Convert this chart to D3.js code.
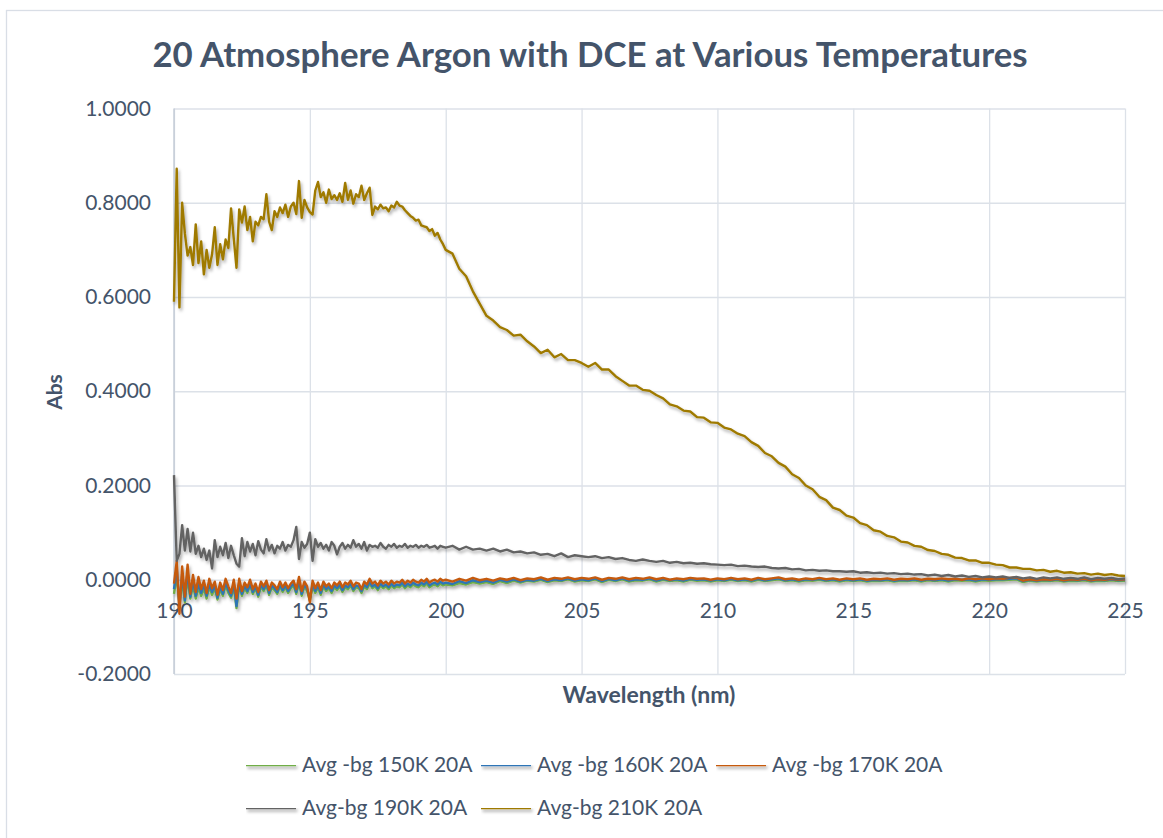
<!DOCTYPE html>
<html>
<head>
<meta charset="utf-8">
<script src="https://cdn.jsdelivr.net/npm/d3@7"></script>
<style>
  body { margin: 0; background: #fff; }
  svg { display: block; }
  text { font-family: Lato, "Open Sans", sans-serif; fill: #44546A; }
</style>
</head>
<body>
<svg id="chart" width="1163" height="838"></svg>
<script>
// Sampling wavelengths (nm): 0.1 nm steps to 200 nm, 0.25 nm steps after.
const wavelengths = [
  190,190.1,190.2,190.3,190.4,190.5,190.6,190.7,190.8,190.9,
  191,191.1,191.2,191.3,191.4,191.5,191.6,191.7,191.8,191.9,
  192,192.1,192.2,192.3,192.4,192.5,192.6,192.7,192.8,192.9,
  193,193.1,193.2,193.3,193.4,193.5,193.6,193.7,193.8,193.9,
  194,194.1,194.2,194.3,194.4,194.5,194.6,194.7,194.8,194.9,
  195,195.1,195.2,195.3,195.4,195.5,195.6,195.7,195.8,195.9,
  196,196.1,196.2,196.3,196.4,196.5,196.6,196.7,196.8,196.9,
  197,197.1,197.2,197.3,197.4,197.5,197.6,197.7,197.8,197.9,
  198,198.1,198.2,198.3,198.4,198.5,198.6,198.7,198.8,198.9,
  199,199.1,199.2,199.3,199.4,199.5,199.6,199.7,199.8,199.9,
  200,200.25,200.5,200.75,201,201.25,201.5,201.75,202,202.25,
  202.5,202.75,203,203.25,203.5,203.75,204,204.25,204.5,204.75,
  205,205.25,205.5,205.75,206,206.25,206.5,206.75,207,207.25,
  207.5,207.75,208,208.25,208.5,208.75,209,209.25,209.5,209.75,
  210,210.25,210.5,210.75,211,211.25,211.5,211.75,212,212.25,
  212.5,212.75,213,213.25,213.5,213.75,214,214.25,214.5,214.75,
  215,215.25,215.5,215.75,216,216.25,216.5,216.75,217,217.25,
  217.5,217.75,218,218.25,218.5,218.75,219,219.25,219.5,219.75,
  220,220.25,220.5,220.75,221,221.25,221.5,221.75,222,222.25,
  222.5,222.75,223,223.25,223.5,223.75,224,224.25,224.5,224.75,
  225
];

// Background-subtracted absorbance, in milli-absorbance units (mAbs).
const abs150K = [
  -30,10,-50,-2,-48,6,-40,-12,-40,-16,
  -34,-18,-40,-14,-32,-18,-42,-20,-34,-12,
  -28,-38,-14,-60,-10,-34,-18,-28,-12,-30,
  -18,-36,-14,-24,-12,-32,-16,-22,-30,-14,
  -26,-16,-28,-18,-12,-30,-6,-34,-14,-24,
  -44,-14,-28,-16,-32,-14,-24,-18,-28,-16,
  -22,-14,-26,-16,-20,-12,-24,-16,-18,-28,
  -14,-20,-8,-18,-14,-22,-12,-18,-14,-20,
  -12,-18,-14,-16,-10,-18,-12,-16,-10,-14,
  -16,-10,-14,-8,-16,-12,-10,-14,-8,-12,
  -10,-12,-7,-10,-5,-8,-5,-9,-3,-7,
  -2,-6,-2,-4,0,-5,-1,-3,1,-4,
  -1,-3,1,-5,0,-3,1,-4,-1,-2,
  1,-4,0,-3,-1,-4,0,-2,-1,-4,
  -1,-3,0,-3,-1,-4,0,-3,-1,1,
  -3,-1,-4,-1,-2,0,-3,-1,-4,-1,
  -3,-1,-4,-2,-3,-1,-4,-2,-3,-1,
  -4,-1,-3,-1,-4,-1,-2,-1,-4,-1,
  -2,-1,-1,0,1,-5,-2,-4,-2,-3,
  -1,-4,-2,-3,-1,-4,-2,-3,-1,-3,
  -2
];

const abs160K = [
  -20,26,-58,12,-44,18,-36,-2,-34,-8,
  -28,-10,-34,-8,-26,-12,-38,-14,-30,-6,
  -22,-34,-8,-56,-6,-30,-12,-24,-8,-26,
  -14,-32,-10,-20,-8,-28,-12,-18,-26,-10,
  -22,-12,-24,-14,-8,-26,-2,-30,-10,-20,
  -40,-10,-24,-12,-28,-10,-20,-14,-24,-12,
  -18,-10,-22,-12,-16,-8,-20,-12,-14,-24,
  -10,-16,-4,-14,-10,-18,-8,-14,-10,-16,
  -8,-14,-10,-12,-6,-14,-8,-12,-6,-10,
  -12,-6,-10,-4,-12,-8,-6,-10,-4,-8,
  -6,-9,-3,-7,-1,-5,-2,-6,0,-4,
  1,-4,0,-2,2,-3,1,-1,3,-2,
  1,-1,3,-3,2,-1,3,-2,1,0,
  3,-2,2,-1,1,-2,2,0,1,-2,
  1,-1,2,-1,1,-2,2,-1,1,3,
  -1,1,-2,1,0,2,-1,1,-2,1,
  -1,1,-2,0,-1,1,-2,0,-1,1,
  -2,1,-1,1,-2,1,0,1,-2,1,
  0,1,1,2,3,-3,0,-2,0,-1,
  1,-2,0,-1,1,-2,0,-1,1,-1,
  0
];

const abs170K = [
  -8,40,-72,28,-36,32,-30,10,-26,6,
  -20,-2,-28,2,-18,-4,-32,-6,-22,2,
  -14,-28,0,-40,2,-24,-6,-16,0,-20,
  -8,-26,-4,-14,-2,-22,-6,-12,-20,-4,
  -16,-6,-18,-8,-2,-20,6,-24,-4,-14,
  -48,-2,-18,-6,-22,-4,-14,-8,-18,-6,
  -12,-4,-16,-6,-10,-2,-14,-6,-8,-20,
  -4,-10,2,-8,-4,-12,-2,-8,-4,-10,
  -2,-8,-4,-6,0,-8,-2,-6,0,-4,
  -6,0,-4,2,-6,-2,0,-4,2,-2,
  0,-4,2,-2,4,-1,2,-2,3,0,
  4,-1,3,1,5,0,4,2,5,1,
  4,2,5,0,4,2,5,1,4,2,
  5,1,4,0,3,1,4,2,3,0,
  3,1,4,1,3,0,4,1,3,5,
  1,3,0,3,1,4,1,3,0,3,
  1,3,0,2,1,3,0,2,1,3,
  0,2,1,3,1,2,0,3,1,3,
  1,3,2,4,5,-2,1,-1,1,0,
  2,-1,1,0,2,-1,1,0,2,0,
  1
];

const abs190K = [
  222,40,55,116,62,108,60,100,55,72,
  48,66,42,62,24,84,48,70,52,78,
  46,72,52,34,28,88,50,80,60,76,
  52,82,64,56,86,62,74,56,72,66,
  80,62,74,70,84,112,44,80,68,76,
  100,40,86,70,78,66,74,62,80,72,
  54,70,78,66,74,68,84,70,76,66,
  80,62,74,70,72,68,78,70,66,74,
  70,76,68,72,70,76,68,72,70,74,
  68,72,70,74,68,70,72,66,72,70,
  68,72,64,70,64,66,62,66,60,64,
  58,60,56,58,53,55,50,56,48,52,
  50,48,50,46,48,44,46,42,40,43,
  40,38,40,36,38,35,36,34,35,33,
  32,31,32,29,30,28,27,28,25,24,
  25,22,23,20,21,19,20,18,18,17,
  18,15,16,14,15,13,14,12,13,11,
  12,9,11,8,10,7,9,6,8,5,
  7,5,7,4,6,3,5,2,5,3,
  5,2,4,2,5,1,4,2,4,1,
  3
];

const abs210K = [
  590,872,578,800,735,688,706,668,754,672,
  718,648,700,662,690,748,668,712,680,722,
  704,788,724,662,786,758,792,742,770,718,
  760,752,770,765,818,760,742,782,770,790,
  778,796,770,792,800,776,846,768,806,790,
  780,775,826,844,812,822,800,828,808,816,
  806,820,802,842,806,826,798,818,812,836,
  806,820,832,774,792,786,796,788,790,782,
  794,790,802,794,792,784,778,772,768,762,
  764,752,750,748,740,744,730,736,722,712,
  700,692,660,644,612,586,560,550,536,530,
  518,520,506,495,481,488,472,479,466,466,
  460,452,460,446,446,432,422,412,412,403,
  401,392,385,372,368,359,357,345,344,334,
  333,323,319,310,305,292,284,269,262,248,
  240,224,216,200,192,176,169,153,148,136,
  132,120,116,105,102,93,90,81,79,72,
  70,63,61,55,53,47,46,41,41,36,
  36,32,31,26,26,23,23,20,21,17,
  19,15,16,13,14,11,13,10,12,9,
  8
];

const seriesNames = ["Avg -bg 150K 20A", "Avg -bg 160K 20A", "Avg -bg 170K 20A", "Avg-bg 190K 20A", "Avg-bg 210K 20A"];
const seriesValues = [abs150K, abs160K, abs170K, abs190K, abs210K];
const seriesColors = ["#70AD47", "#2E75B6", "#C55A11", "#636363", "#9F7A00"];

const xTicks = [190, 195, 200, 205, 210, 215, 220, 225];
const yTicks = [-0.2, 0, 0.2, 0.4, 0.6, 0.8, 1.0];

const titleText = "20 Atmosphere Argon with DCE at Various Temperatures";
const xTitle = "Wavelength (nm)";
const yTitle = "Abs";

// ---- layout ----
const plot = { left: 174, right: 1125, top: 108.5, bottom: 674 };
const svg = d3.select("#chart");

const x = d3.scaleLinear().domain([190, 225]).range([plot.left, plot.right]);
const y = d3.scaleLinear().domain([-0.2, 1.0]).range([plot.bottom, plot.top]);

// plain hyphen for negative tick values
const fmtAbs = v => d3.format(".4f")(v).replace("\u2212", "-");

// soft outer shadow used by the series lines
const defs = svg.append("defs");
const shadow = defs.append("filter")
  .attr("id", "lineShadow")
  .attr("filterUnits", "userSpaceOnUse")
  .attr("x", 0).attr("y", 0).attr("width", 1163).attr("height", 838);
shadow.append("feDropShadow")
  .attr("dx", 1.5).attr("dy", 2.5)
  .attr("stdDeviation", 1.6)
  .attr("flood-color", "#000")
  .attr("flood-opacity", 0.32);

// chart area frame
svg.append("rect")
  .attr("x", 6.5).attr("y", 10.5)
  .attr("width", 1175).attr("height", 840)
  .attr("fill", "#fff")
  .attr("stroke", "#D9DEE6")
  .attr("stroke-width", 1.3);

// gridlines
const gridColor = "#DCE1E8";
svg.append("g")
  .attr("transform", `translate(${plot.left},0)`)
  .call(d3.axisLeft(y).tickValues(yTicks).tickSize(-(plot.right - plot.left)).tickFormat(""))
  .call(g => g.select(".domain").remove())
  .call(g => g.selectAll("line").attr("stroke", gridColor).attr("stroke-width", 1.3));

svg.append("g")
  .attr("transform", `translate(0,${plot.bottom})`)
  .call(d3.axisBottom(x).tickValues(xTicks).tickSize(-(plot.bottom - plot.top)).tickFormat(""))
  .call(g => g.select(".domain").remove())
  .call(g => g.selectAll("line").attr("stroke", gridColor).attr("stroke-width", 1.3));

// vertical axis line
svg.append("line")
  .attr("x1", plot.left).attr("x2", plot.left)
  .attr("y1", plot.top).attr("y2", plot.bottom)
  .attr("stroke", "#BFC7D3").attr("stroke-width", 1.3);

// y tick labels
svg.append("g")
  .attr("transform", `translate(${plot.left},0)`)
  .call(d3.axisLeft(y).tickValues(yTicks).tickSize(0).tickPadding(23).tickFormat(fmtAbs))
  .call(g => g.select(".domain").remove())
  .call(g => g.selectAll("text")
    .style("font-family", "Lato, 'Open Sans', sans-serif")
    .style("font-size", "21px")
    .attr("fill", "#44546A"));

// x tick labels hang below the zero line
svg.append("g")
  .attr("transform", `translate(0,${y(0)})`)
  .call(d3.axisBottom(x).tickValues(xTicks).tickSize(0).tickPadding(23).tickFormat(d3.format("d")))
  .call(g => g.select(".domain").remove())
  .call(g => g.selectAll("text")
    .style("font-family", "Lato, 'Open Sans', sans-serif")
    .style("font-size", "21px")
    .attr("fill", "#44546A"));

// series lines
const line = d3.line()
  .x((d, i) => x(wavelengths[i]))
  .y(d => y(d / 1000));

svg.append("g")
  .attr("filter", "url(#lineShadow)")
  .selectAll("path")
  .data(seriesValues)
  .join("path")
  .attr("d", line)
  .attr("fill", "none")
  .attr("stroke", (d, i) => seriesColors[i])
  .attr("stroke-width", 2.4)
  .attr("stroke-linejoin", "round");

// titles
svg.append("text")
  .attr("x", 590).attr("y", 67)
  .attr("text-anchor", "middle")
  .style("font-size", "34.8px").style("font-weight", 700)
  .text(titleText);

svg.append("text")
  .attr("x", 649).attr("y", 703)
  .attr("text-anchor", "middle")
  .style("font-size", "23px").style("font-weight", 700)
  .text(xTitle);

svg.append("text")
  .attr("transform", "translate(62,392) rotate(-90)")
  .attr("text-anchor", "middle")
  .style("font-size", "21px").style("font-weight", 700)
  .text(yTitle);

// legend: three entries on the first row, two on the second
const legendSlots = [
  { x: 246, y: 765 }, { x: 481, y: 765 }, { x: 716, y: 765 },
  { x: 246, y: 808 }, { x: 481, y: 808 }
];
const legend = svg.append("g");
const items = legend.selectAll("g")
  .data(seriesNames)
  .join("g")
  .attr("transform", (d, i) => `translate(${legendSlots[i].x},${legendSlots[i].y})`);
items.append("line")
  .attr("x1", 0).attr("x2", 50)
  .attr("stroke", (d, i) => seriesColors[i])
  .attr("stroke-width", 2.4)
  .attr("filter", "url(#lineShadow)");
items.append("text")
  .attr("x", 56).attr("y", 0)
  .attr("dy", "0.35em")
  .style("font-size", "21px")
  .text(d => d);
</script>
</body>
</html>
